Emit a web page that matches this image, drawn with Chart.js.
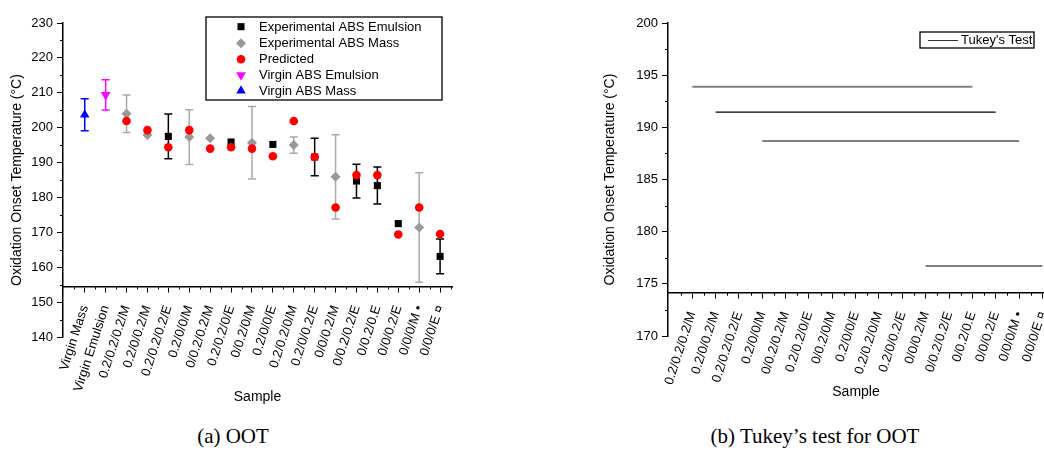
<!DOCTYPE html>
<html>
<head>
<meta charset="utf-8">
<script src="https://cdn.jsdelivr.net/npm/chart.js@4/dist/chart.umd.min.js"></script>
<style>
  body { margin: 0; background: #fff; width: 1044px; height: 466px; position: relative; overflow: hidden; }
  canvas { position: absolute; top: 0; }
  #oot { left: 0; }
  #tukey { left: 522px; }
  .cap { position: absolute; top: 424px; height: 26px; line-height: 26px; text-align: center;
         font: 21px "Liberation Serif", "DejaVu Serif", serif; color: #000; }
</style>
</head>
<body>
<canvas id="oot" width="522" height="420"></canvas>
<canvas id="tukey" width="522" height="420"></canvas>
<div class="cap" style="left:113px;width:240px">(a) OOT</div>
<div class="cap" style="left:675px;width:280px">(b) Tukey’s test for OOT</div>
<script>
var samples = ['Virgin Mass', 'Virgin Emulsion', '0.2/0.2/0.2/M', '0.2/0/0.2/M', '0.2/0.2/0.2/E', '0.2/0/0/M',
  '0/0.2/0.2/M', '0.2/0.2/0/E', '0/0.2/0/M', '0.2/0/0/E', '0.2/0.2/0/M', '0.2/0/0.2/E', '0/0/0.2/M',
  '0/0.2/0.2/E', '0/0.2/0.E', '0/0/0.2/E', '0/0/0/M •', '0/0/0/E ¤'];

// oxidation onset temperature (°C), null = no point for that sample
var emulsionOOT = [null, null, null, null, 197.5, null, null, 195.9, null, 195.2, null, 191.6, null, 184.7, 183.4, 172.5, null, 163.1];
var emulsionErr = [0, 0, 0, 0, 6.4, 0, 0, 0, 0, 0, 0, 5.35, 0, 4.85, 5.3, 0, 0, 5.0];
var massOOT = [null, null, 204.0, 197.9, null, 197.3, 197.0, null, 195.7, null, 195.0, null, 185.9, null, null, null, 171.4, null];
var massErr = [0, 0, 5.35, 0, 0, 7.85, 0, 0, 10.4, 0, 2.35, 0, 12.1, 0, 0, 0, 15.7, 0];
var predictedOOT = [null, null, 201.9, 199.3, 194.4, 199.3, 194.0, 194.4, 194.0, 191.8, 201.9, 191.6, 177.1, 186.4, 186.4, 169.4, 177.1, 169.5];
var virginEmulsionOOT = [null, 209.4, null, null, null, null, null, null, null, null, null, null, null, null, null, null, null, null];
var virginEmulsionErr = [0, 4.35, 0, 0, 0, 0, 0, 0, 0, 0, 0, 0, 0, 0, 0, 0, 0, 0];
var virginMassOOT = [203.7, null, null, null, null, null, null, null, null, null, null, null, null, null, null, null, null, null];
var virginMassErr = [4.6, 0, 0, 0, 0, 0, 0, 0, 0, 0, 0, 0, 0, 0, 0, 0, 0, 0];

// Tukey groups on the 16 blended samples
var tukeySamples = samples.slice(2);
var tukeyMean = [193.9, 191.45, 188.7, 176.7];
var tukeyFrom = [0, 1, 3, 10];
var tukeyTo = [12, 13, 14, 15];

var tickFont = { family: '"Liberation Sans", Arial, sans-serif', size: 13 };
var titleFont = { family: '"Liberation Sans", Arial, sans-serif', size: 14 };

function points(vals, errs) {
  var out = [];
  vals.forEach(function (v, i) {
    if (v !== null) out.push({ x: i, y: v, err: errs ? errs[i] : 0 });
  });
  return out;
}

var errorBars = {
  id: 'errorBars',
  beforeDatasetsDraw: function (chart) {
    var ctx = chart.ctx, x = chart.scales.x, y = chart.scales.y;
    chart.data.datasets.forEach(function (ds) {
      if (!ds.errColor) return;
      ctx.save();
      ctx.strokeStyle = ds.errColor;
      ctx.lineWidth = 1.5;
      ctx.beginPath();
      ds.data.forEach(function (p) {
        if (!p.err) return;
        var px = x.getPixelForValue(p.x);
        var top = y.getPixelForValue(p.y + p.err), bot = y.getPixelForValue(p.y - p.err);
        ctx.moveTo(px, top); ctx.lineTo(px, bot);
        ctx.moveTo(px - 4, top); ctx.lineTo(px + 4, top);
        ctx.moveTo(px - 4, bot); ctx.lineTo(px + 4, bot);
      });
      ctx.stroke();
      ctx.restore();
    });
  }
};

var minorTicks = {
  id: 'minorTicks',
  afterDraw: function (chart, args, opts) {
    var ctx = chart.ctx, x = chart.scales.x, y = chart.scales.y;
    var area = chart.chartArea;
    var axisY = y.getPixelForValue(chart.options.scales.x.position.y);
    ctx.save();
    ctx.strokeStyle = '#000';
    ctx.lineWidth = 1;
    ctx.beginPath();
    for (var v = y.min; v <= y.max + 1e-6; v += opts.y) {
      var isMajor = y.ticks.some(function (t) { return Math.abs(t.value - v) < 1e-6; });
      if (isMajor) continue;
      var py = Math.round(y.getPixelForValue(v)) + 0.5;
      ctx.moveTo(area.left, py); ctx.lineTo(area.left - 3, py);
    }
    for (var u = Math.ceil(x.min) - 0.5; u <= x.max; u += 1) {
      if (u < x.min) continue;
      var px = Math.round(x.getPixelForValue(u)) + 0.5;
      ctx.moveTo(px, axisY); ctx.lineTo(px, axisY + 3);
    }
    ctx.stroke();
    ctx.restore();
  }
};

var boxLegend = {
  id: 'boxLegend',
  afterDraw: function (chart, args, opts) {
    var ctx = chart.ctx, b = opts.box;
    ctx.save();
    ctx.strokeStyle = '#000';
    ctx.lineWidth = 1.3;
    ctx.strokeRect(b[0], b[1], b[2] - b[0], b[3] - b[1]);
    ctx.font = '13px "Liberation Sans", Arial, sans-serif';
    ctx.textBaseline = 'middle';
    var rowY = opts.rowY;
    chart.data.datasets.forEach(function (ds, i) {
      if (i >= rowY.length) return;
      if (opts.line) {
        ctx.strokeStyle = '#333';
        ctx.lineWidth = 1;
        ctx.beginPath();
        ctx.moveTo(opts.markerX[0], rowY[i] + 0.5);
        ctx.lineTo(opts.markerX[1], rowY[i] + 0.5);
        ctx.stroke();
      } else {
        ctx.fillStyle = ds.pointBackgroundColor;
        Chart.helpers.drawPoint(ctx, {
          pointStyle: ds.pointStyle, radius: ds.pointRadius,
          rotation: ds.pointRotation || 0, borderWidth: 0
        }, opts.markerX, rowY[i]);
      }
      ctx.fillStyle = '#000';
      ctx.fillText(ds.label, opts.textX, rowY[i] + 0.5);
    });
    ctx.restore();
  }
};

new Chart(document.getElementById('oot'), {
  type: 'scatter',
  data: {
    datasets: [
      { label: 'Experimental ABS Emulsion', data: points(emulsionOOT, emulsionErr), order: 3,
        pointStyle: 'rect', pointRadius: 5, pointBackgroundColor: '#000', pointBorderWidth: 0, errColor: '#000' },
      { label: 'Experimental ABS Mass', data: points(massOOT, massErr), order: 2,
        pointStyle: 'rectRot', pointRadius: 5, pointBackgroundColor: '#999999', pointBorderWidth: 0, errColor: '#aaaaaa' },
      { label: 'Predicted', data: points(predictedOOT), order: 1,
        pointStyle: 'circle', pointRadius: 4.3, pointBackgroundColor: '#ff0000', pointBorderWidth: 0 },
      { label: 'Virgin ABS Emulsion', data: points(virginEmulsionOOT, virginEmulsionErr), order: 0,
        pointStyle: 'triangle', pointRotation: 180, pointRadius: 5.7, pointBackgroundColor: '#ff00ff', pointBorderWidth: 0, errColor: '#ff00ff' },
      { label: 'Virgin ABS Mass', data: points(virginMassOOT, virginMassErr), order: 0,
        pointStyle: 'triangle', pointRadius: 5.5, pointBackgroundColor: '#0000ff', pointBorderWidth: 0, errColor: '#0000ff' }
    ]
  },
  options: {
    responsive: false,
    animation: false,
    devicePixelRatio: 1,
    layout: { padding: { left: 0, top: 23, right: 70, bottom: 83 } },
    plugins: {
      legend: { display: false },
      tooltip: { enabled: false },
      minorTicks: { y: 5 },
      boxLegend: { box: [206, 17, 442, 100], markerX: 241, textX: 259, rowY: [26.7, 43.2, 59.2, 75, 90.7] }
    },
    scales: {
      x: {
        type: 'linear',
        min: -1.04, max: 17.57,
        position: { y: 154.5 },
        afterBuildTicks: function (s) { s.ticks = samples.map(function (_, i) { return { value: i }; }); },
        afterFit: function (s) { s.paddingLeft = 0; s.paddingRight = 0; s.height = 119.4; },
        ticks: { autoSkip: false, minRotation: 72, maxRotation: 72, padding: 12, color: '#000', font: tickFont,
                 callback: function (v) { return samples[v]; } },
        grid: { drawOnChartArea: false, tickLength: 5, color: '#000' },
        border: { color: '#000', width: 1.5 },
        title: { display: true, text: 'Sample', color: '#000', font: titleFont, padding: 0 }
      },
      y: {
        min: 140, max: 230,
        afterFit: function (s) { s.width = 63; },
        ticks: { stepSize: 10, padding: 4, color: '#000', font: tickFont },
        grid: { drawOnChartArea: false, tickLength: 6, color: '#000' },
        border: { color: '#000', width: 1.5 },
        title: { display: true, text: 'Oxidation Onset Temperature (°C)', color: '#000', font: titleFont,
                 padding: { top: 9, bottom: 0 } }
      }
    }
  },
  plugins: [errorBars, minorTicks, boxLegend]
});

new Chart(document.getElementById('tukey'), {
  type: 'line',
  data: {
    datasets: tukeyMean.map(function (m, k) {
      return {
        label: "Tukey's Test",
        data: [{ x: tukeyFrom[k], y: m }, { x: tukeyTo[k], y: m }],
        borderColor: k === 1 ? '#000' : '#808080',
        borderWidth: k === 1 ? 1.2 : 2,
        pointRadius: 0
      };
    })
  },
  options: {
    responsive: false,
    animation: false,
    devicePixelRatio: 1,
    layout: { padding: { left: 73, top: 23, right: 0, bottom: 84 } },
    plugins: {
      legend: { display: false },
      tooltip: { enabled: false },
      minorTicks: { y: 2.5 },
      boxLegend: { box: [398, 32, 512, 48], line: true, markerX: [406, 436], textX: 439, rowY: [40] }
    },
    scales: {
      x: {
        type: 'linear',
        min: -1.04, max: 15.07,
        position: { y: 174.15 },
        afterBuildTicks: function (s) { s.ticks = tukeySamples.map(function (_, i) { return { value: i }; }); },
        afterFit: function (s) { s.paddingLeft = 0; s.paddingRight = 0; s.height = 107.4; },
        ticks: { autoSkip: false, minRotation: 72, maxRotation: 72, padding: 12, color: '#000', font: tickFont,
                 callback: function (v) { return tukeySamples[v]; } },
        grid: { drawOnChartArea: false, tickLength: 5, color: '#000' },
        border: { color: '#000', width: 1.5 },
        title: { display: true, text: 'Sample', color: '#000', font: titleFont, padding: 0 }
      },
      y: {
        min: 170, max: 200,
        afterFit: function (s) { s.width = 73; },
        ticks: { stepSize: 5, padding: 4, color: '#000', font: tickFont },
        grid: { drawOnChartArea: false, tickLength: 6, color: '#000' },
        border: { color: '#000', width: 1.5 },
        title: { display: true, text: 'Oxidation Onset Temperature (°C)', color: '#000', font: titleFont,
                 padding: { top: 7, bottom: 0 } }
      }
    }
  },
  plugins: [minorTicks, boxLegend]
});
</script>
</body>
</html>
